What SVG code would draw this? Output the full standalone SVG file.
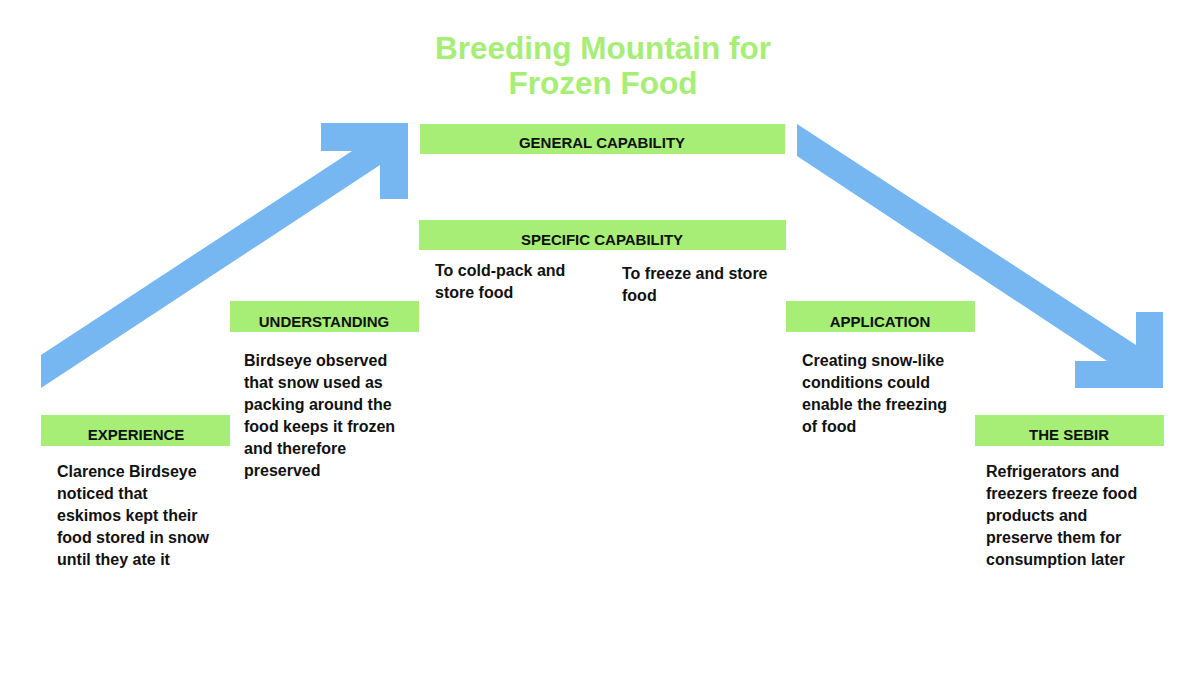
<svg xmlns="http://www.w3.org/2000/svg" width="1200" height="689" viewBox="0 0 1200 689">
<style>
.bar{fill:#a6ee76}
.arrow{fill:#76b7f1}
.head{font-family:"Liberation Sans",Arial,sans-serif;font-weight:bold;font-size:15px;fill:#111;text-anchor:middle}
.body{font-family:"Liberation Sans",Arial,sans-serif;font-weight:bold;font-size:16px;fill:#111}
.title{font-family:"Liberation Sans",Arial,sans-serif;font-weight:bold;font-size:31.5px;fill:#a6ee76;text-anchor:middle}
</style>
<rect width="1200" height="689" fill="#ffffff"/>
<g id="title">
<text class="title" x="603" y="59">Breeding Mountain for</text>
<text class="title" x="603" y="94">Frozen Food</text>
</g>
<g id="connectors">
<polygon class="arrow" points="41,355 352,151 321,151 321,123 408,123 408,199 380,199 380,165 41,388"/>
<polygon class="arrow" points="797,124 1136,345 1136,312 1163,312 1163,388 1075,388 1075,361 1107,361 797,156"/>
</g>
<g id="general">
<rect class="bar" x="420" y="124" width="365" height="30"/>
<text class="head" x="602" y="148">GENERAL CAPABILITY</text>
</g>
<g id="specific">
<rect class="bar" x="419" y="220" width="367" height="30"/>
<text class="head" x="602" y="245">SPECIFIC CAPABILITY</text>
<text class="body" x="435" y="276">To cold-pack and</text>
<text class="body" x="435" y="298">store food</text>
<text class="body" x="622" y="279">To freeze and store</text>
<text class="body" x="622" y="301">food</text>
</g>
<g id="understanding">
<rect class="bar" x="230" y="301" width="189" height="31"/>
<text class="head" x="324" y="327">UNDERSTANDING</text>
<text class="body" x="244" y="366">Birdseye observed</text>
<text class="body" x="244" y="388">that snow used as</text>
<text class="body" x="244" y="410">packing around the</text>
<text class="body" x="244" y="432">food keeps it frozen</text>
<text class="body" x="244" y="454">and therefore</text>
<text class="body" x="244" y="476">preserved</text>
</g>
<g id="experience">
<rect class="bar" x="41" y="415" width="189" height="31"/>
<text class="head" x="136" y="440">EXPERIENCE</text>
<text class="body" x="57" y="477">Clarence Birdseye</text>
<text class="body" x="57" y="499">noticed that</text>
<text class="body" x="57" y="521">eskimos kept their</text>
<text class="body" x="57" y="543">food stored in snow</text>
<text class="body" x="57" y="565">until they ate it</text>
</g>
<g id="application">
<rect class="bar" x="786" y="301" width="189" height="31"/>
<text class="head" x="880" y="327">APPLICATION</text>
<text class="body" x="802" y="366">Creating snow-like</text>
<text class="body" x="802" y="388">conditions could</text>
<text class="body" x="802" y="410">enable the freezing</text>
<text class="body" x="802" y="432">of food</text>
</g>
<g id="sebir">
<rect class="bar" x="975" y="415" width="189" height="31"/>
<text class="head" x="1069" y="440">THE SEBIR</text>
<text class="body" x="986" y="477">Refrigerators and</text>
<text class="body" x="986" y="499">freezers freeze food</text>
<text class="body" x="986" y="521">products and</text>
<text class="body" x="986" y="543">preserve them for</text>
<text class="body" x="986" y="565">consumption later</text>
</g>
</svg>
